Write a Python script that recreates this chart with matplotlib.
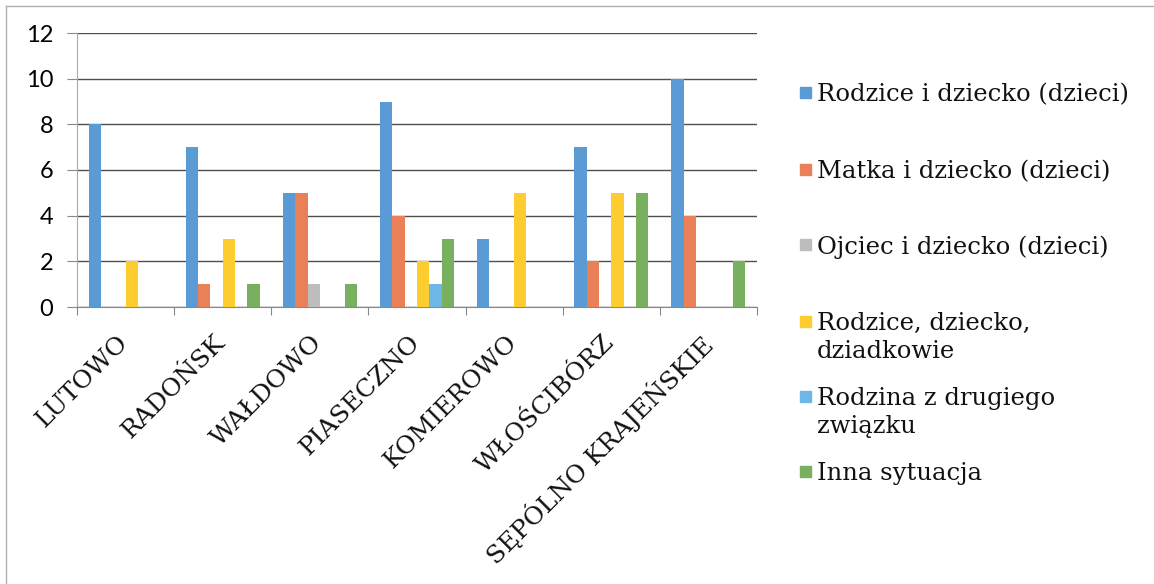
import numpy as np
import matplotlib
matplotlib.use("Agg")
import matplotlib.pyplot as plt
from matplotlib.patches import Rectangle
from matplotlib.lines import Line2D

places = ["LUTOWO", "RADOŃSK", "WAŁDOWO", "PIASECZNO", "KOMIEROWO",
          "WŁOŚCIBÓRZ", "SĘPÓLNO KRAJEŃSKIE"]
series_names = ["Rodzice i dziecko (dzieci)", "Matka i dziecko (dzieci)",
                "Ojciec i dziecko (dzieci)", "Rodzice, dziecko,\ndziadkowie",
                "Rodzina z drugiego\nzwiązku", "Inna sytuacja"]
rodzice_dziecko = [8, 7, 5, 9, 3, 7, 10]
matka_dziecko = [0, 1, 5, 4, 0, 2, 4]
ojciec_dziecko = [0, 0, 1, 0, 0, 0, 0]
rodzice_dziadkowie = [2, 3, 0, 2, 5, 5, 0]
drugi_zwiazek = [0, 0, 0, 1, 0, 0, 0]
inna = [0, 1, 1, 3, 0, 5, 2]
yticks = [0, 2, 4, 6, 8, 10, 12]

series = [rodzice_dziecko, matka_dziecko, ojciec_dziecko,
          rodzice_dziadkowie, drugi_zwiazek, inna]
colors = ["#5b9bd5", "#e98058", "#bdbdbd", "#fdcc2e", "#6db7e6", "#78b060"]

W, H = 1154, 584
fig = plt.figure(figsize=(W / 100, H / 100), dpi=100)
ax = fig.add_axes([77 / W, 1 - 307 / H, (757 - 77) / W, (307 - 33) / H])

x = np.arange(len(places))
w = 0.127
for k, (vals, c) in enumerate(zip(series, colors)):
    ax.bar(x + (k - 2.5) * w, vals, width=w, color=c, zorder=3)

ax.set_xlim(-0.5, len(places) - 0.5)
ax.set_ylim(0, 12)
ax.set_yticks(yticks)
ax.set_yticklabels([str(v) for v in yticks], fontsize=17, family="Lato")
ax.yaxis.grid(True, color="#505050", linewidth=1.0, zorder=0)

# ticks between groups
ax.set_xticks(np.arange(len(places) + 1) - 0.5)
ax.set_xticklabels([])
ax.tick_params(axis="x", length=6, color="#888888", width=0.8)
ax.tick_params(axis="y", length=7, color="#888888", width=0.8, pad=10)

for s in ["top", "right"]:
    ax.spines[s].set_visible(False)
ax.spines["left"].set_color("#aaaaaa")
ax.spines["bottom"].set_color("#888888")

for i, p in enumerate(places):
    ax.annotate(p, xy=(i, 0), xycoords="data", xytext=(-6.5, -17),
                textcoords="offset points", rotation=45, ha="right",
                va="top", rotation_mode="anchor", fontsize=18,
                family="DejaVu Serif", color="#111111")

# legend entries on the right
leg_y = [93, 170, 245, 322, 397, 472]
for name, c, yy in zip(series_names, colors, leg_y):
    fig.patches.append(Rectangle((800 / W, 1 - (yy + 5) / H), 11 / W, 11 / H,
                                 transform=fig.transFigure, color=c,
                                 figure=fig))
    fig.text(817 / W, 1 - (yy - 10) / H, name, fontsize=17.5,
             family="DejaVu Serif", va="top", ha="left", color="#111111",
             linespacing=1.3)

# outer frame (top and left only visible)
fig.lines.append(Line2D([6 / W, 1], [1 - 6 / H, 1 - 6 / H],
                        transform=fig.transFigure, color="#b0b0b0", lw=1))
fig.lines.append(Line2D([6 / W, 6 / W], [0, 1 - 6 / H],
                        transform=fig.transFigure, color="#b0b0b0", lw=1))

fig.savefig("out.png", dpi=100)
